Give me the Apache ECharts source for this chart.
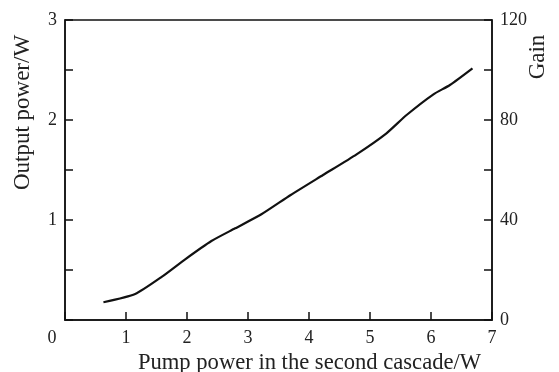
<!DOCTYPE html>
<html>
<head>
<meta charset="utf-8">
<script src="https://cdn.jsdelivr.net/npm/echarts@6/dist/echarts.min.js"></script>
<style>
  html, body { margin: 0; padding: 0; background: #fff; }
  #chart { width: 559px; height: 372px; }
</style>
</head>
<body>
<div id="chart"></div>
<script>
// pump power in the second cascade (W)
const pumpPower = [0.63, 1.15, 1.59, 1.97, 2.40, 2.79, 3.22, 3.70, 4.23, 4.78, 5.27, 5.60, 6.04, 6.31, 6.68];
// output power (W)
const outputPower = [0.177, 0.26, 0.433, 0.607, 0.79, 0.917, 1.057, 1.25, 1.45, 1.657, 1.867, 2.05, 2.257, 2.35, 2.517];

const xTicks = [0, 1, 2, 3, 4, 5, 6, 7];
const leftTicks = [1, 2, 3];
const rightTicks = [0, 40, 80, 120];

const font = "Liberation Serif";

const chart = echarts.init(document.getElementById("chart"));

const option = {
  backgroundColor: "#fff",
  animation: false,
  grid: {
    left: 65,
    right: 67,
    top: 20,
    bottom: 52,
    outerBoundsMode: "none",
    containLabel: false,
    show: true,
    borderColor: "#111",
    borderWidth: 1.5
  },
  xAxis: {
    type: "value",
    min: 0,
    max: 7,
    interval: 1,
    name: "Pump power in the second cascade/W",
    nameLocation: "middle",
    nameGap: 32,
    nameMoveOverlap: false,
    nameTextStyle: { fontFamily: font, fontSize: 22.6, color: "#222", padding: [0, 0, 0, 62] },
    axisLine: { show: true, lineStyle: { color: "#111", width: 1.5 } },
    axisTick: { show: true, inside: true, length: 8, lineStyle: { color: "#111", width: 1.5 } },
    splitLine: { show: false },
    axisLabel: {
      margin: 9,
      fontFamily: font,
      fontSize: 18,
      color: "#222",
      formatter: function (v) {
        if (xTicks.indexOf(v) < 0) return "";
        return v === 0 ? "{z|0}" : String(v);
      },
      rich: { z: { fontFamily: font, fontSize: 18, color: "#222", padding: [0, 26, 0, 0] } }
    }
  },
  yAxis: [
    {
      type: "value",
      position: "left",
      min: 0,
      max: 3,
      interval: 0.5,
      name: "Output power/W",
      nameLocation: "middle",
      nameGap: 31,
      nameMoveOverlap: false,
      nameTextStyle: { fontFamily: font, fontSize: 23, color: "#222", padding: [0, 0, 0, 115] },
      axisLine: { show: true, lineStyle: { color: "#111", width: 1.5 } },
      axisTick: { show: true, inside: true, length: 8, lineStyle: { color: "#111", width: 1.5 } },
      splitLine: { show: false },
      axisLabel: {
        margin: 8,
        fontFamily: font,
        fontSize: 18,
        color: "#222",
        formatter: function (v) {
          return leftTicks.indexOf(v) >= 0 ? String(v) : "";
        }
      }
    },
    {
      type: "value",
      position: "right",
      min: 0,
      max: 120,
      interval: 20,
      name: "Gain",
      nameLocation: "middle",
      nameRotate: 90,
      nameGap: 34,
      nameMoveOverlap: false,
      nameTextStyle: { fontFamily: font, fontSize: 23, color: "#222", padding: [0, 0, 0, 226] },
      axisLine: { show: true, lineStyle: { color: "#111", width: 1.5 } },
      axisTick: { show: true, inside: true, length: 8, lineStyle: { color: "#111", width: 1.5 } },
      splitLine: { show: false },
      axisLabel: {
        margin: 8,
        fontFamily: font,
        fontSize: 18,
        color: "#222",
        formatter: function (v) {
          return rightTicks.indexOf(v) >= 0 ? String(v) : "";
        }
      }
    }
  ],
  series: [
    {
      name: "Output power",
      type: "line",
      yAxisIndex: 0,
      data: pumpPower.map((x, i) => [x, outputPower[i]]),
      smooth: 0.2,
      showSymbol: false,
      lineStyle: { color: "#111", width: 2.2 }
    }
  ]
};

chart.setOption(option);
</script>
</body>
</html>
